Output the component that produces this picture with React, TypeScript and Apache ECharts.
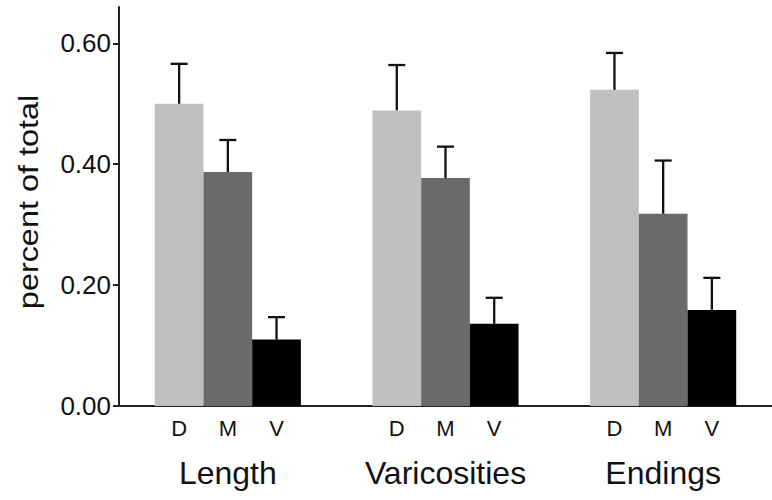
import React, { useEffect, useRef } from "react";
import * as echarts from "echarts";

const categories = ["Length", "Varicosities", "Endings"];
const seriesNames = ["D", "M", "V"];
const dValues = [0.5, 0.489, 0.523];
const mValues = [0.387, 0.377, 0.318];
const vValues = [0.11, 0.136, 0.159];
const dSE = [0.066, 0.075, 0.061];
const mSE = [0.053, 0.052, 0.088];
const vSE = [0.037, 0.043, 0.053];
const yTicks = [0, 0.2, 0.4, 0.6];
const yLabel = "percent of total";

const colors = ["#c0c0c0", "#6a6a6a", "#000000"];
const FONT = "'Liberation Sans', Arial, sans-serif";
const BAR_W = 48.7;

export default function App() {
  const ref = useRef<HTMLDivElement>(null);
  useEffect(() => {
    if (!ref.current) return;
    const chart = echarts.init(ref.current, undefined, { renderer: "svg" });
    const means = [dValues, mValues, vValues];
    const ses = [dSE, mSE, vSE];
    const offsets = [-BAR_W, 0, BAR_W];

    const barSeries = seriesNames.map((name, i) => ({
      name,
      type: "bar",
      data: means[i],
      barWidth: BAR_W,
      barGap: "0%",
      itemStyle: { color: colors[i] },
      label: {
        show: true,
        position: "bottom",
        distance: 11,
        formatter: () => name,
        color: "#111",
        fontSize: 22,
        fontFamily: FONT,
      },
      z: 2,
    }));

    const errSeries = seriesNames.map((name, i) => ({
      name: name + " err",
      type: "custom",
      data: means[i].map((v, k) => [k, v, ses[i][k]]),
      encode: { x: 0, y: 1 },
      z: 3,
      renderItem: (params: any, api: any) => {
        const idx = api.value(0);
        const m = api.value(1);
        const se = api.value(2);
        const x = api.coord([idx, m])[0] + offsets[i];
        const yBar = api.coord([idx, m])[1];
        const yTop = api.coord([idx, m + se])[1];
        return {
          type: "group",
          children: [
            {
              type: "line",
              shape: { x1: x, y1: yBar, x2: x, y2: yTop },
              style: { stroke: "#111", lineWidth: 2.3 },
            },
            {
              type: "line",
              shape: { x1: x - 8.5, y1: yTop, x2: x + 8.5, y2: yTop },
              style: { stroke: "#111", lineWidth: 2.3 },
            },
          ],
        };
      },
    }));

    chart.setOption({
      animation: false,
      backgroundColor: "#ffffff",
      grid: { left: 119, right: -7, top: 7, bottom: 94, containLabel: false },
      xAxis: {
        type: "category",
        data: categories,
        axisLine: { show: true, lineStyle: { color: "#222", width: 2 } },
        axisTick: { show: false },
        axisLabel: {
          show: true,
          fontSize: 32,
          color: "#111",
          fontFamily: FONT,
          margin: 51,
        },
      },
      yAxis: {
        type: "value",
        min: 0,
        max: 0.66,
        interval: 0.2,
        splitLine: { show: false },
        axisLine: { show: true, lineStyle: { color: "#222", width: 2 } },
        axisTick: {
          show: true,
          length: 6,
          lineStyle: { color: "#222", width: 2 },
          customValues: yTicks,
        },
        axisLabel: {
          fontSize: 26,
          color: "#111",
          fontFamily: FONT,
          margin: 8,
          customValues: yTicks,
          formatter: (v: number) => v.toFixed(2),
        },
      },
      graphic: [
        {
          type: "text",
          x: 28,
          y: 202,
          rotation: Math.PI / 2,
          scaleX: 1.2,
          style: {
            text: yLabel,
            fontSize: 27,
            fontFamily: FONT,
            fill: "#111",
            textAlign: "center",
            textVerticalAlign: "middle",
          },
        },
      ],
      series: [...barSeries, ...errSeries],
    });
    return () => chart.dispose();
  }, []);
  return (
    <div
      ref={ref}
      style={{ position: "fixed", left: 0, top: 0, width: 772, height: 500 }}
    />
  );
}
